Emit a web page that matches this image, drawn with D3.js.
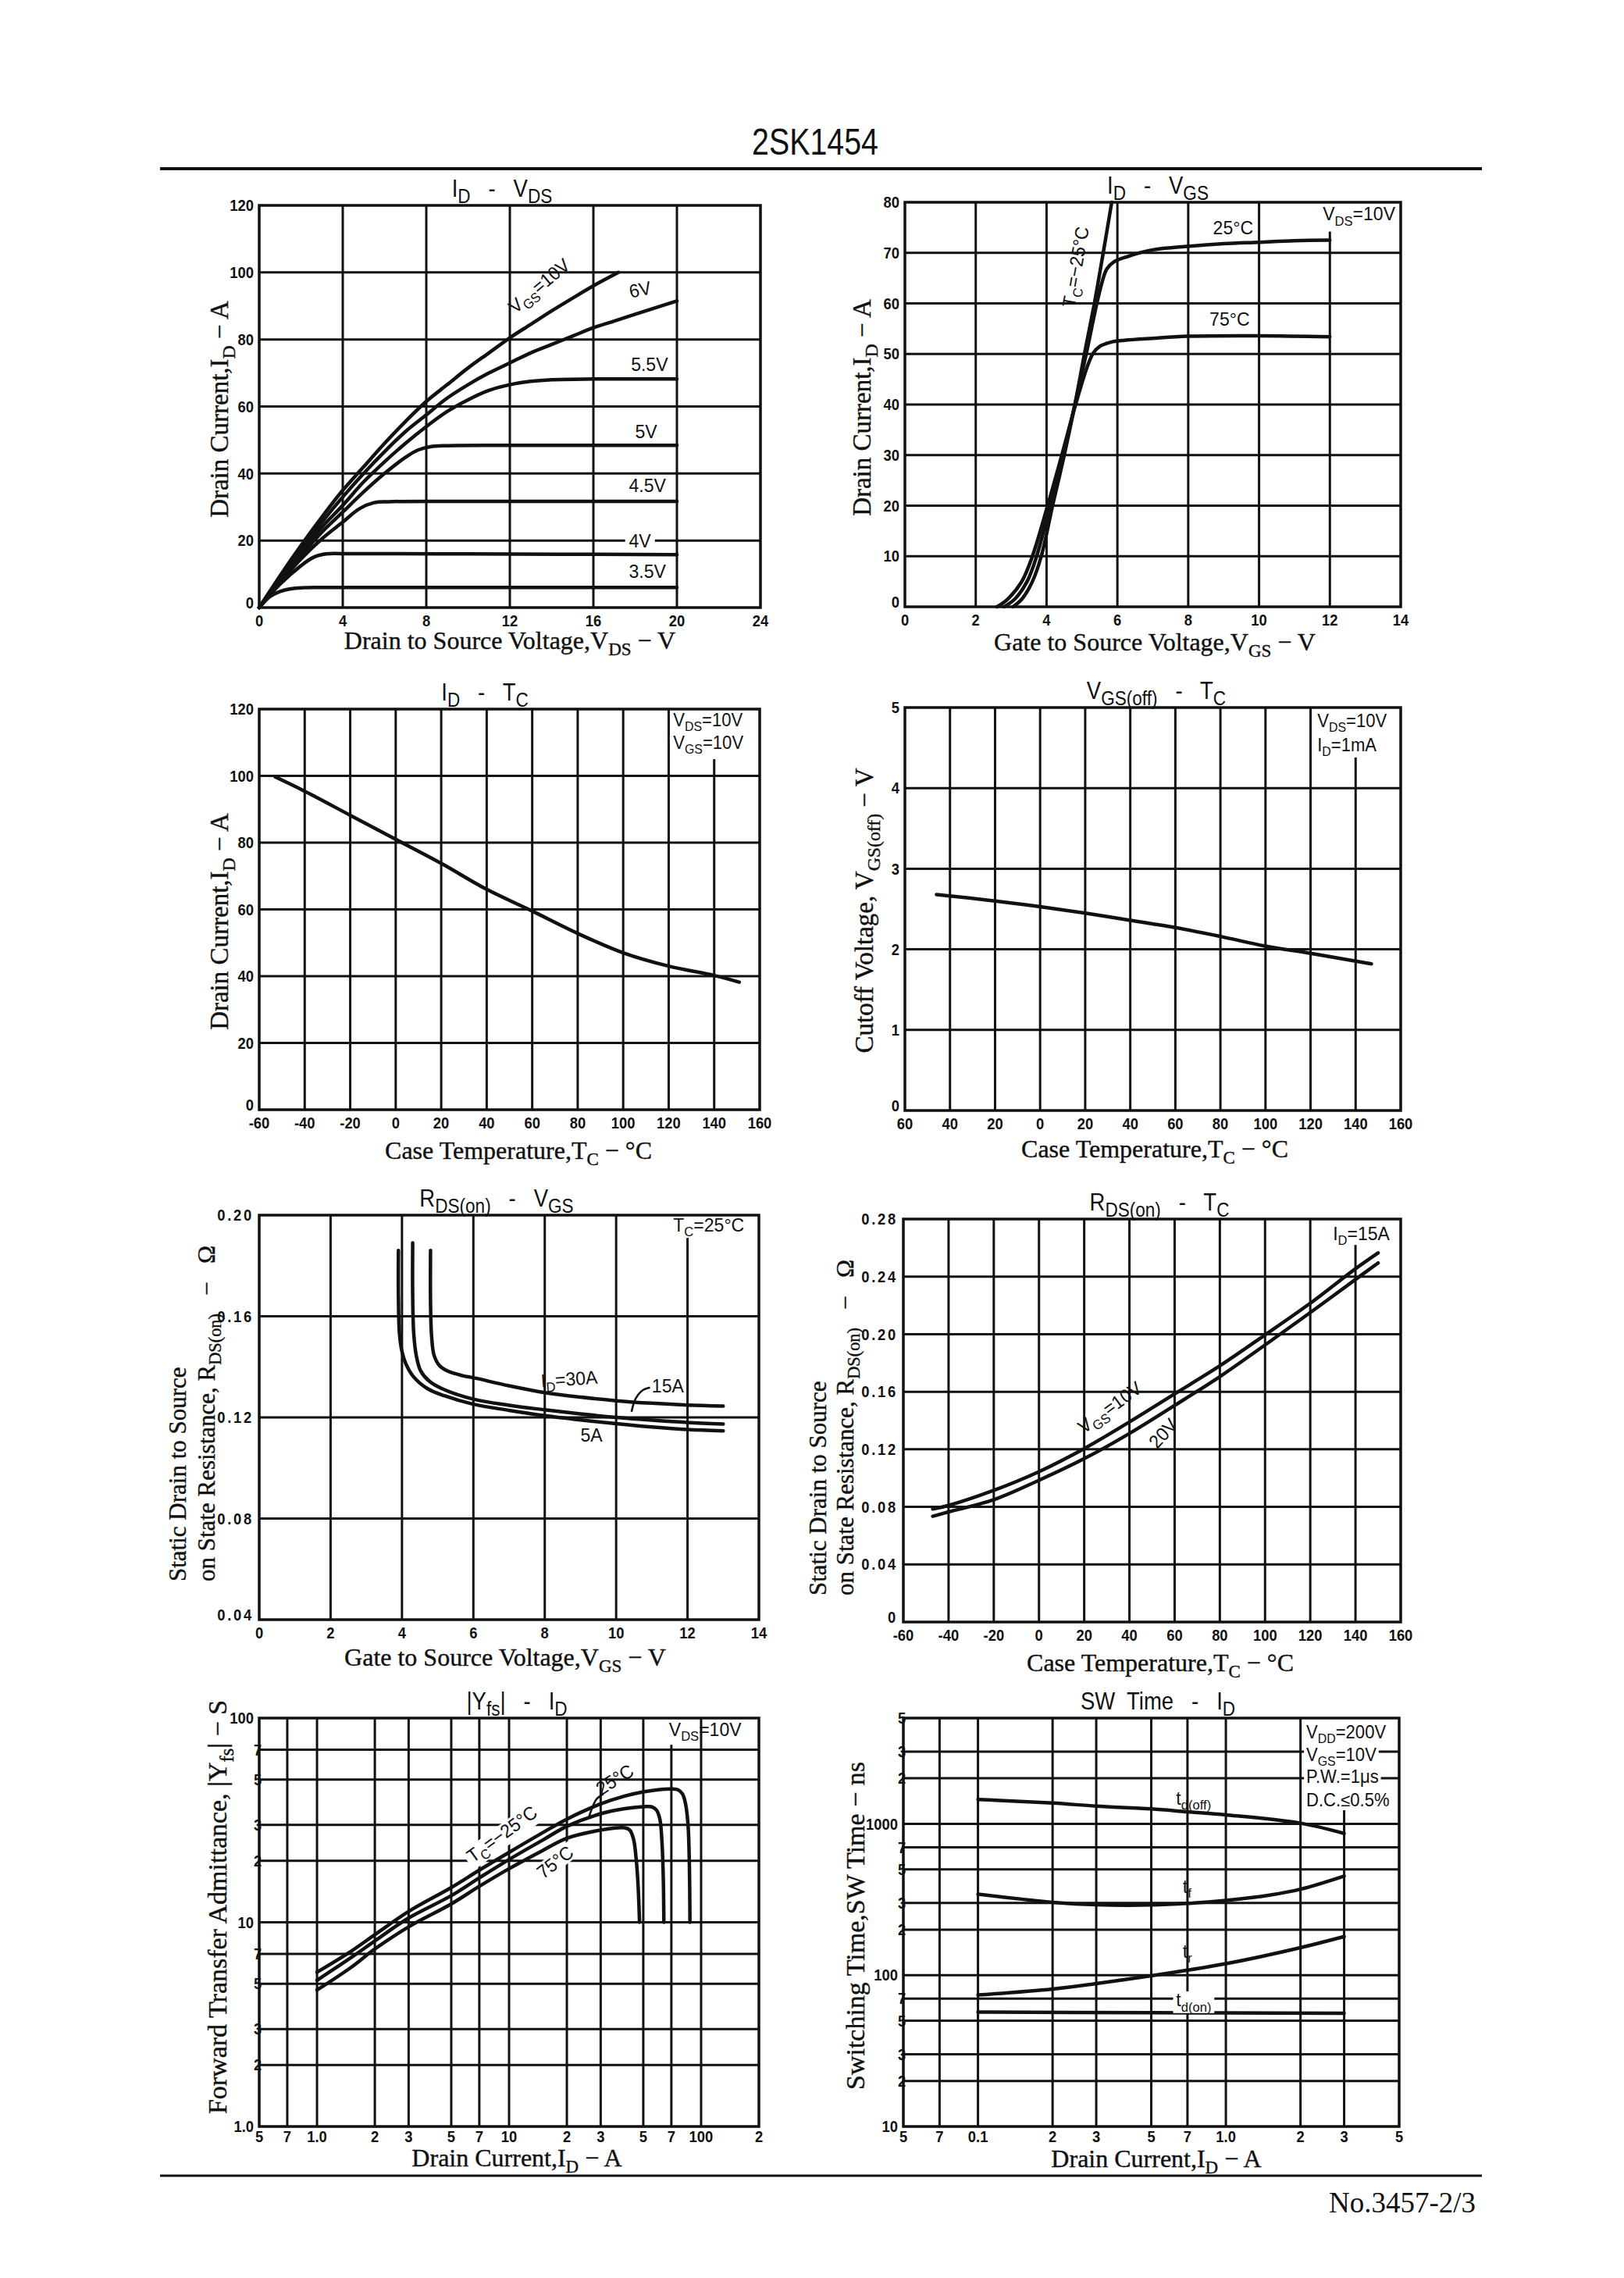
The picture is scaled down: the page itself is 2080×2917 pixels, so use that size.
<!DOCTYPE html>
<html><head><meta charset="utf-8">
<script src="https://cdn.jsdelivr.net/npm/d3@7/dist/d3.min.js"></script>
<style>html,body{margin:0;padding:0;background:#fff}</style>
</head><body>
<svg id="c" width="2080" height="2917" xmlns="http://www.w3.org/2000/svg"></svg>
<script>
// ================= DATA =================
// Panel 1: ID - VDS
const p1XTicks = [0,4,8,12,16,20,24];
const p1YTicks = [0,20,40,60,80,100,120];
const idvds_vgs10 = [[0,0],[1,9.5],[2,18.5],[3,27],[4,35],[5,42],[6,49],[7,55.5],[8,61.5],[9,66.5],[10,71.5],[11,76],[12,80.5],[13,84.5],[14,88.5],[15,92.3],[16,96],[17.2,100]];
const idvds_vgs6  = [[0,0],[1,9],[2,17.5],[3,25.5],[4,33],[5,40],[6,46.5],[7,52.5],[8,57.5],[9,62.5],[10,66.5],[11,70],[12,73],[13,76],[14,78.5],[15,81],[16,83.5],[17,85.5],[18,87.5],[19,89.5],[20,91.5]];
const idvds_vgs55 = [[0,0],[1,8.5],[2,16.5],[3,24],[4,30.5],[5,37.5],[6,43.5],[7,49],[8,54],[9,58.5],[10,62],[11,64.8],[12,66.5],[13,67.5],[14,68],[16,68.2],[20,68.2]];
const idvds_vgs5  = [[0,0],[1,8],[2,15.5],[3,22.5],[4,28.5],[5,34.5],[6,40],[7,44.8],[7.6,47],[8.2,48],[9,48.3],[12,48.4],[20,48.4]];
const idvds_vgs45 = [[0,0],[1,7.5],[2,14.5],[3,20.5],[4,25.5],[4.8,29.5],[5.5,31.3],[6.2,31.6],[10,31.7],[20,31.7]];
const idvds_vgs4  = [[0,0],[1,7],[2,12.5],[2.6,15],[3.2,16],[4,16.1],[10,16],[20,15.8]];
const idvds_vgs35 = [[0,0],[0.5,3.2],[1,4.8],[1.5,5.6],[2,5.9],[3,6],[10,6],[20,6]];
// Panel 2: ID - VGS
const p2XTicks = [0,2,4,6,8,10,12,14];
const p2YTicks = [0,10,20,30,40,50,60,70,80];
const idvgs_m25 = [[3.05,0],[3.3,1.5],[3.6,5],[3.85,10],[4.17,20],[4.5,30],[4.8,40],[5.07,50],[5.35,60],[5.6,70],[5.84,80]];
const idvgs_25  = [[2.8,0],[3.1,1.5],[3.45,5],[3.72,10],[4.1,20],[4.47,30],[4.8,40],[5.12,50],[5.42,60],[5.58,64.5],[5.7,66.8],[5.9,68.2],[6.3,69.3],[7,70.6],[8,71.3],[9,71.8],[10,72.1],[11,72.4],[12,72.5]];
const idvgs_75  = [[2.6,0],[2.9,1.5],[3.3,5],[3.6,10],[4.03,20],[4.43,30],[4.82,40],[5.15,47.5],[5.32,50.2],[5.5,51.5],[5.8,52.3],[6.2,52.7],[7,53.1],[8,53.5],[10,53.6],[12,53.4]];
// Panel 3: ID - TC
const tcTicks = [-60,-40,-20,0,20,40,60,80,100,120,140,160];
const p3XLabels = ["-60","-40","-20","0","20","40","60","80","100","120","140","160"];
const idtc = [[-53,99.7],[-40,95.4],[-20,88.2],[0,81],[20,73.8],[40,66],[60,59.5],[80,52.8],[100,47],[120,43],[140,40.2],[151,38.2]];
// Panel 4: VGS(off) - TC
const p4XLabels = ["60","40","20","0","20","40","60","80","100","120","140","160"];
const p4YTicks = [0,1,2,3,4,5];
const vgsofftc = [[-46,2.68],[-20,2.6],[0,2.53],[20,2.45],[40,2.36],[60,2.27],[80,2.16],[100,2.04],[120,1.95],[147,1.82]];
// Panel 5: RDS(on) - VGS
const p5XTicks = [0,2,4,6,8,10,12,14];
const p5YTicks = [0.04,0.08,0.12,0.16,0.20];
const p5YLabels = ["0.04","0.08","0.12","0.16","0.20"];
const rds_5A  = [[3.9,0.186],[3.9,0.168],[3.93,0.153],[4.0,0.146],[4.1,0.1415],[4.3,0.1365],[4.7,0.1315],[5.2,0.1285],[6,0.1252],[7,0.1228],[8,0.1207],[9,0.119],[10,0.1175],[11,0.1162],[12,0.1152],[13,0.1147]];
const rds_15A = [[4.3,0.189],[4.3,0.168],[4.33,0.153],[4.4,0.1445],[4.52,0.1385],[4.75,0.1345],[5.1,0.1315],[6,0.1272],[7,0.1248],[8,0.123],[9,0.1214],[10,0.12],[11,0.1189],[12,0.118],[13,0.1174]];
const rds_30A = [[4.8,0.186],[4.8,0.165],[4.83,0.152],[4.9,0.1445],[5.05,0.1405],[5.3,0.1382],[5.7,0.1365],[6,0.1357],[7,0.1325],[8,0.1298],[9,0.128],[10,0.1266],[11,0.1256],[12,0.1249],[13,0.1245]];
// Panel 6: RDS(on) - TC
const p6XLabels = ["-60","-40","-20","0","20","40","60","80","100","120","140","160"];
const p6YTicks = [0,0.04,0.08,0.12,0.16,0.20,0.24,0.28];
const p6YLabels = ["0","0.04","0.08","0.12","0.16","0.20","0.24","0.28"];
const rdstc_vgs10 = [[-47,0.0785],[-40,0.081],[-20,0.0915],[0,0.1045],[20,0.1205],[40,0.139],[60,0.1585],[80,0.178],[100,0.1995],[120,0.2215],[140,0.2455],[150,0.2565]];
const rdstc_vgs20 = [[-47,0.0735],[-40,0.0765],[-20,0.085],[0,0.0985],[20,0.1135],[40,0.131],[60,0.1505],[80,0.1705],[100,0.1925],[120,0.215],[140,0.238],[150,0.2495]];
// Panel 7: |Yfs| - ID
const p7XTicks = [0.5,0.7,1,2,3,5,7,10,20,30,50,70,100,200];
const p7XLabels = ["5","7","1.0","2","3","5","7","10","2","3","5","7","100","2"];
const p7YTicks = [1,2,3,5,7,10,20,30,50,70,100];
const p7YLabels = ["1.0","2","3","5","7","10","2","3","5","7","100"];
const yfs_m25 = [[1.0,5.7],[1.5,7.2],[2,8.7],[3,11.3],[5,14.8],[7,18],[10,22],[15,27.5],[20,32],[30,38],[40,41.5],[50,43.5],[60,44.6],[70,45],[76,44.5],[80,42.5],[83,38],[85.5,30],[86.8,20],[87.5,10]];
const yfs_25  = [[1.0,5.2],[1.5,6.7],[2,8.1],[3,10.5],[5,13.5],[7,16.5],[10,20.3],[15,25.3],[20,29.5],[30,34],[40,36],[50,36.8],[55,36.8],[58.5,35.5],[61,32],[62.5,25],[63.5,17],[64,10]];
const yfs_75  = [[1.0,4.66],[1.5,6.0],[2,7.4],[3,9.5],[5,12.3],[7,15],[10,18.3],[15,22.5],[20,25.8],[30,28.3],[35,28.9],[40,29],[42.5,28.3],[44.5,25.5],[46,20],[47,15],[47.8,10]];
// Panel 8: SW Time - ID
const p8XTicks = [0.05,0.07,0.1,0.2,0.3,0.5,0.7,1,2,3,5];
const p8XLabels = ["5","7","0.1","2","3","5","7","1.0","2","3","5"];
const p8YTicks = [10,20,30,50,70,100,200,300,500,700,1000,2000,3000,5000];
const p8YLabels = ["10","2","3","5","7","100","2","3","5","7","1000","2","3","5"];
const sw_tdoff = [[0.1,1450],[0.2,1372],[0.3,1310],[0.5,1255],[0.7,1200],[1.0,1146],[2,1010],[3,864]];
const sw_tf    = [[0.1,343],[0.15,318],[0.2,303],[0.3,292],[0.5,291],[0.7,298],[1.0,312],[1.5,338],[2,370],[3,452]];
const sw_tr    = [[0.1,74],[0.2,81],[0.3,88],[0.5,99],[0.7,108],[1.0,119],[2,152],[3,180]];
const sw_tdon  = [[0.1,57],[0.5,56.5],[1.0,56.3],[3,56]];

// ================= DRAWING =================
const SANS = "'Liberation Sans', Arial, Helvetica, sans-serif";
const SERIF = "'Liberation Serif', 'Times New Roman', serif";
const INK = "#111";
const svg = d3.select("#c");
svg.append("rect").attr("width",2080).attr("height",2917).attr("fill","#fff");

function rich(t, str, size, subScale){
  const parts = str.split(/(_\{[^}]*\})/);
  const off = size*0.26;
  let shifted = false;
  parts.forEach(p=>{
    if(!p) return;
    if(p.startsWith("_{")){
      t.append("tspan").attr("font-size", size*(subScale||0.72)).attr("dy", off).text(p.slice(2,-1));
      shifted = true;
    } else {
      const ts = t.append("tspan").text(p);
      if(shifted){ ts.attr("dy", -off); shifted = false; }
    }
  });
}
function label(parent, o){
  const g = parent.append("g").attr("transform", `translate(${o.x},${o.y}) rotate(${o.rot||0}) scale(${o.sx||1},1)`);
  const t = g.append("text").attr("text-anchor", o.anchor||"start")
    .attr("font-family", o.family||SANS).attr("font-size", o.size)
    .attr("font-weight", o.weight||"normal").attr("fill", INK)
    .style("white-space","pre");
  if(o.stroke){ t.attr("stroke", INK).attr("stroke-width", o.stroke); }
  if(o.ls) t.attr("letter-spacing", o.ls);
  if(o.dy) t.attr("dy", o.dy);
  rich(t, o.text, o.size, o.subScale);
  if(o.bg){
    const bb = t.node().getBBox(); const p = o.pad==null?3:o.pad;
    g.insert("rect","text").attr("x",bb.x-p).attr("y",bb.y+2).attr("width",bb.width+2*p).attr("height",bb.height-4).attr("fill","#fff");
  }
  return g;
}

function panel(c){
  const {L,R,T,B} = c.box;
  const x = (c.xLog? d3.scaleLog(): d3.scaleLinear()).domain(c.xDomain).range([L,R]);
  const y = (c.yLog? d3.scaleLog(): d3.scaleLinear()).domain(c.yDomain).range([B,T]);
  const g = svg.append("g");
  g.selectAll(null).data(c.xGrid).join("line")
    .attr("x1",d=>x(d)).attr("x2",d=>x(d)).attr("y1",B).attr("y2",T)
    .attr("stroke",INK).attr("stroke-width",3);
  g.selectAll(null).data(c.yGrid).join("line")
    .attr("y1",d=>y(d)).attr("y2",d=>y(d)).attr("x1",L).attr("x2",R)
    .attr("stroke",INK).attr("stroke-width",3);
  (c.masks||[]).forEach(m=>{
    g.append("rect").attr("x",x(m[0])).attr("width",x(m[1])-x(m[0]))
      .attr("y",y(m[3])).attr("height",y(m[2])-y(m[3])).attr("fill","#fff");
  });
  g.append("rect").attr("x",L).attr("y",T).attr("width",R-L).attr("height",B-T)
    .attr("fill","none").attr("stroke",INK).attr("stroke-width",3.5);
  const smooth = d3.line().x(d=>x(d[0])).y(d=>y(d[1])).curve(d3.curveCatmullRom.alpha(0.5));
  c.series.forEach(s=>{
    g.append("path").attr("d", smooth(s)).attr("fill","none").attr("stroke",INK)
      .attr("stroke-width",4.5).attr("stroke-linejoin","round").attr("stroke-linecap","round");
  });
  (c.leaders||[]).forEach(s=>{
    g.append("path").attr("d", smooth(s)).attr("fill","none").attr("stroke",INK).attr("stroke-width",2.5);
  });
  const tk = {size:20, sx:0.92, weight:"bold"};
  c.xTicks.forEach((v,i)=> label(g, Object.assign({}, tk, {x:x(v), y:B+(c.xTickDy||24), text:c.xLabels[i], anchor:"middle"})));
  c.yTicks.forEach((v,i)=>{
    const s = c.yLabels[i];
    const small = c.yLog && s.length===1;
    const lift = (!c.yLog && i===0) ? -6 : 0;
    label(g, Object.assign({}, tk, {x: small? L-2 : L-7, y:y(v)+lift, dy:"0.36em", text:s,
      anchor: small? "middle":"end", ls:c.yLs||null}));
  });
  (c.labels||[]).forEach(l=> label(g, Object.assign({size:24, sx:0.96}, l, {x:x(l.at[0]), y:y(l.at[1])})));
  label(g,{x:c.titleX, y:T-11, text:c.title, size:32, anchor:"middle", sx:0.86, subScale:0.82});
  label(g,{x:c.xTitleX, y:B+c.xTitleDy, text:c.xTitle, size:32, anchor:"middle", family:SERIF, stroke:0.4});
  c.yTitles.forEach(t=> label(g, Object.assign({size:33, family:SERIF, rot:-90, anchor:"middle", stroke:0.4}, t)));
}

// header / footer
label(svg,{x:1044, y:198, text:"2SK1454", size:48, anchor:"middle", sx:0.82});
svg.append("line").attr("x1",205).attr("x2",1898).attr("y1",216).attr("y2",216).attr("stroke",INK).attr("stroke-width",4);
svg.append("line").attr("x1",205).attr("x2",1898).attr("y1",2786).attr("y2",2786).attr("stroke",INK).attr("stroke-width",3);
label(svg,{x:1890, y:2833, text:"No.3457-2/3", size:37, anchor:"end", family:SERIF});

// Panel 1
panel({box:{L:332,R:974,T:263,B:778}, xDomain:[0,24], yDomain:[0,120],
  xGrid:[4,8,12,16,20], yGrid:[20,40,60,80,100],
  xTicks:p1XTicks, xLabels:p1XTicks.map(String), yTicks:p1YTicks, yLabels:p1YTicks.map(String),
  series:[idvds_vgs10,idvds_vgs6,idvds_vgs55,idvds_vgs5,idvds_vgs45,idvds_vgs4,idvds_vgs35],
  labels:[
    {at:[13.6,94.5], text:"V_{GS}=10V", anchor:"middle", rot:-40},
    {at:[18.3,93], text:"6V", anchor:"middle", rot:-12},
    {at:[17.8,70.5], text:"5.5V"},
    {at:[18.0,50.5], text:"5V"},
    {at:[17.7,34.5], text:"4.5V"},
    {at:[17.7,18.0], text:"4V", bg:true, pad:5},
    {at:[17.7,8.8], text:"3.5V"}
  ],
  title:"I_{D}   -   V_{DS}", titleX:643,
  xTitle:"Drain to Source Voltage,V_{DS} − V", xTitleX:653, xTitleDy:53,
  yTitles:[{x:292, y:524, text:"Drain Current,I_{D} − A"}]
});

// Panel 2
panel({box:{L:1159,R:1794,T:259,B:777}, xDomain:[0,14], yDomain:[0,80],
  xGrid:[2,4,6,8,10,12], yGrid:[10,20,30,40,50,60,70],
  xTicks:p2XTicks, xLabels:p2XTicks.map(String), yTicks:p2YTicks, yLabels:p2YTicks.map(String),
  masks:[[11.8,12.2,74.2,80]],
  series:[idvgs_m25,idvgs_25,idvgs_75],
  labels:[
    {at:[5.0,67], text:"T_{C}=−25°C", anchor:"middle", rot:-80},
    {at:[8.7,73.6], text:"25°C"},
    {at:[8.6,55.6], text:"75°C"},
    {at:[11.8,76.4], text:"V_{DS}=10V"}
  ],
  title:"I_{D}   -   V_{GS}", titleX:1483,
  xTitle:"Gate to Source Voltage,V_{GS} − V", xTitleX:1479, xTitleDy:56,
  yTitles:[{x:1115, y:522, text:"Drain Current,I_{D} − A"}]
});

// Panel 3
panel({box:{L:332,R:973,T:908,B:1421}, xDomain:[-60,160], yDomain:[0,120],
  xGrid:[-40,-20,0,20,40,60,80,100,120,140], yGrid:[20,40,60,80,100],
  xTicks:tcTicks, xLabels:p3XLabels, yTicks:p1YTicks, yLabels:p1YTicks.map(String),
  masks:[[136,144,105,120]],
  series:[idtc],
  labels:[
    {at:[122,114.8], text:"V_{DS}=10V", size:23},
    {at:[122,108.0], text:"V_{GS}=10V", size:23}
  ],
  title:"I_{D}   -   T_{C}", titleX:621,
  xTitle:"Case Temperature,T_{C} − °C", xTitleX:664, xTitleDy:63,
  yTitles:[{x:292, y:1180, text:"Drain Current,I_{D} − A"}]
});

// Panel 4
panel({box:{L:1159,R:1794,T:906,B:1422}, xDomain:[-60,160], yDomain:[0,5],
  xGrid:[-40,-20,0,20,40,60,80,100,120,140], yGrid:[1,2,3,4],
  xTicks:tcTicks, xLabels:p4XLabels, yTicks:p4YTicks, yLabels:p4YTicks.map(String),
  masks:[[136,144,4.38,5]],
  series:[vgsofftc],
  labels:[
    {at:[123,4.76], text:"V_{DS}=10V", size:23},
    {at:[123,4.46], text:"I_{D}=1mA", size:23}
  ],
  title:"V_{GS(off)}   -   T_{C}", titleX:1481,
  xTitle:"Case Temperature,T_{C} − °C", xTitleX:1479, xTitleDy:60,
  yTitles:[{x:1118, y:1166, text:"Cutoff Voltage, V_{GS(off)} − V"}]
});

// Panel 5
panel({box:{L:332,R:972,T:1556,B:2074}, xDomain:[0,14], yDomain:[0.04,0.20],
  xGrid:[2,4,6,8,10,12], yGrid:[0.08,0.12,0.16], yLs:3,
  xTicks:p5XTicks, xLabels:p5XTicks.map(String), yTicks:p5YTicks, yLabels:p5YLabels,
  masks:[[11.8,12.2,0.191,0.20]],
  series:[rds_5A,rds_15A,rds_30A],
  leaders:[[[10.43,0.1222],[10.55,0.1275],[10.75,0.1308],[10.95,0.1318]]],
  labels:[
    {at:[7.9,0.1318], text:"I_{D}=30A", rot:-4},
    {at:[11.0,0.1298], text:"15A"},
    {at:[9.0,0.1105], text:"5A"},
    {at:[11.6,0.1935], text:"T_{C}=25°C"}
  ],
  title:"R_{DS(on)}   -   V_{GS}", titleX:636,
  xTitle:"Gate to Source Voltage,V_{GS} − V", xTitleX:647, xTitleDy:59,
  yTitles:[{x:238, y:2025, anchor:"start", text:"Static Drain to Source", size:31},
           {x:275, y:2025, anchor:"start", text:"on State Resistance, R_{DS(on)}   −   Ω", size:31}]
});

// Panel 6
panel({box:{L:1157,R:1794,T:1561,B:2077}, xDomain:[-60,160], yDomain:[0,0.28],
  xGrid:[-40,-20,0,20,40,60,80,100,120,140], yGrid:[0.04,0.08,0.12,0.16,0.20,0.24], yLs:3,
  xTicks:tcTicks, xLabels:p6XLabels, yTicks:p6YTicks, yLabels:p6YLabels,
  masks:[[136,144,0.262,0.28]],
  series:[rdstc_vgs10,rdstc_vgs20],
  labels:[
    {at:[33,0.1455], text:"V_{GS}=10V", anchor:"middle", rot:-36},
    {at:[57,0.128], text:"20V", anchor:"middle", rot:-48},
    {at:[130,0.2655], text:"I_{D}=15A"}
  ],
  title:"R_{DS(on)}   -   T_{C}", titleX:1485,
  xTitle:"Case Temperature,T_{C} − °C", xTitleX:1486, xTitleDy:63,
  yTitles:[{x:1058, y:2043, anchor:"start", text:"Static Drain to Source", size:31},
           {x:1093, y:2043, anchor:"start", text:"on State Resistance, R_{DS(on)}   −   Ω", size:31}]
});

// Panel 7
panel({box:{L:332,R:972,T:2200,B:2723}, xLog:true, yLog:true, xDomain:[0.5,200], yDomain:[1,100],
  xGrid:[0.7,1,2,3,5,7,10,20,30,50,70,100], yGrid:[2,3,5,7,10,20,30,50,70], xTickDy:20,
  xTicks:p7XTicks, xLabels:p7XLabels, yTicks:p7YTicks, yLabels:p7YLabels,
  masks:[[62,80,74,100]],
  series:[yfs_m25,yfs_25,yfs_75],
  leaders:[[[26,32.5],[27,36],[28.5,40],[31,42.5]]],
  labels:[
    {at:[9.6,25.5], text:"T_{C}=−25°C", anchor:"middle", rot:-36, bg:true, pad:4},
    {at:[37,47], text:"25°C", anchor:"middle", rot:-32},
    {at:[18.2,18.6], text:"75°C", anchor:"middle", rot:-38, bg:true, pad:4},
    {at:[68,82], text:"V_{DS}=10V"}
  ],
  title:"|Y_{fs}|   -   I_{D}", titleX:662,
  xTitle:"Drain Current,I_{D} − A", xTitleX:662, xTitleDy:51,
  yTitles:[{x:290, y:2442, size:34, text:"Forward Transfer Admittance, |Y_{fs}| − S"}]
});

// Panel 8
panel({box:{L:1157,R:1792,T:2200,B:2723}, xLog:true, yLog:true, xDomain:[0.05,5], yDomain:[10,5000],
  xGrid:[0.07,0.1,0.2,0.3,0.5,0.7,1,2,3], yGrid:[20,30,50,70,100,200,300,500,700,1000,2000,3000], xTickDy:20,
  xTicks:p8XTicks, xLabels:p8XLabels, yTicks:p8YTicks, yLabels:p8YLabels,
  masks:[[2.85,3.15,1230,5000]],
  series:[sw_tdoff,sw_tf,sw_tr,sw_tdon],
  labels:[
    {at:[0.63,1340], text:"t_{d(off)}"},
    {at:[0.67,350], text:"t_{f}"},
    {at:[0.67,130], text:"t_{r}"},
    {at:[0.63,62], text:"t_{d(on)}", bg:true, pad:4},
    {at:[2.11,3670], text:"V_{DD}=200V", bg:true, size:23},
    {at:[2.11,2600], text:"V_{GS}=10V", bg:true, size:23},
    {at:[2.11,1865], text:"P.W.=1μs", bg:true, size:23},
    {at:[2.11,1305], text:"D.C.≤0.5%", bg:true, size:23}
  ],
  title:"SW  Time   -   I_{D}", titleX:1483,
  xTitle:"Drain Current,I_{D} − A", xTitleX:1481, xTitleDy:52,
  yTitles:[{x:1107, y:2466, size:34, text:"Switching Time,SW Time − ns"}]
});
</script></body></html>
